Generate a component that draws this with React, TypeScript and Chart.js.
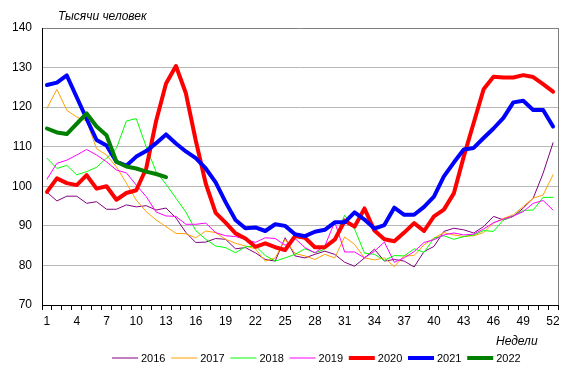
import React, { useEffect, useRef } from 'react';
import { Chart, registerables } from 'chart.js';

Chart.register(...registerables);

const weeks = ['1','2','3','4','5','6','7','8','9','10','11','12','13','14','15','16','17','18','19','20','21','22','23','24','25','26','27','28','29','30','31','32','33','34','35','36','37','38','39','40','41','42','43','44','45','46','47','48','49','50','51','52'];

const years = ['2016', '2017', '2018', '2019', '2020', '2021', '2022'];

const s2016 = [98.5,96.3,97.5,97.5,95.7,96.1,94.2,94.2,95.3,94.8, 95.1,94.0,94.5,92.0,88.3,85.8,85.9,86.8,86.6,84.2, 84.5,83.2,81.5,81.1,87.0,82.4,81.9,82.8,83.6,82.8, 80.8,79.8,81.9,84.1,81.1,81.5,81.1,79.6,83.5,84.8, 88.6,89.4,89.0,88.2,89.8,92.4,91.5,92.4,94.5,97.0, 103.3,111.0];
const s2017 = [119.7,124.5,119.2,117.5,116.5,109.5,107.9,104.9,100.8,96.5, 93.6,91.5,89.8,88.1,88.0,87.0,88.7,88.3,86.6,85.6, 84.9,84.2,81.1,81.9,86.6,83.0,82.4,81.5,82.8,81.9, 87.2,85.3,81.9,81.4,81.9,79.7,82.4,82.5,85.2,86.9, 88.3,87.7,87.3,87.5,88.3,90.7,91.9,92.8,94.9,97.0, 97.8,102.9];
const s2018 = [107.1,104.5,105.3,102.9,103.7,104.8,107.1,109.6,116.5,117.1, 110.0,103.7,100.5,97.0,93.5,88.8,86.6,84.9,84.5,83.2, 84.7,84.9,82.5,81.1,81.9,82.8,84.2,83.2,84.1,86.6, 92.7,89.2,83.1,82.8,81.3,82.5,82.4,84.2,83.3,86.9, 87.5,86.6,87.3,87.7,88.8,88.6,91.5,92.5,93.9,94.0, 97.2,97.2];
const s2019 = [101.8,105.8,106.6,107.9,109.3,107.9,106.2,104.1,103.4,100.3, 97.4,93.5,92.5,92.4,90.4,90.4,90.7,88.3,87.5,87.3, 86.6,85.8,87.0,86.8,85.1,86.8,84.5,83.2,84.9,91.0, 83.4,83.4,81.9,83.6,85.9,80.8,81.9,83.5,85.8,86.5, 87.7,88.2,87.7,87.9,89.2,90.8,91.7,92.5,93.6,95.7, 96.4,94.0];
const s2020 = [98.6,102.0,100.8,100.3,102.8,99.4,100.0,96.6,98.3,99.0, 104.5,116.5,126.0,130.4,123.5,111.5,100.7,93.3,90.8,88.1, 86.8,84.7,85.6,84.6,83.9,87.4,87.0,84.6,84.6,86.5, 91.3,89.8,94.4,88.8,86.6,86.1,88.3,90.7,88.7,92.4, 94.1,98.2,107.5,116.0,124.5,127.7,127.5,127.5,128.1,127.6, 125.8,123.9];
const s2021 = [125.6,126.2,128.0,122.5,117.0,111.7,110.3,106.2,105.2,107.5, 108.9,110.9,113.1,110.8,108.8,107.1,104.5,101.0,96.0,91.5, 89.4,89.6,88.7,90.4,90.0,87.9,87.4,88.5,89.0,90.9, 90.9,93.4,91.6,89.3,90.2,94.6,92.8,92.8,94.8,97.4, 102.5,106.0,109.3,109.7,112.2,114.6,117.3,121.2,121.6,119.3, 119.3,115.1];
const s2022 = [114.6,113.6,113.2,115.8,118.4,115.1,112.9,106.2,105.0,104.5, 103.7,103.1,102.3];

const seriesValues = [s2016, s2017, s2018, s2019, s2020, s2021, s2022];
const seriesColors = ['#800080', '#FFA000', '#00FF00', '#FF00FF', '#FF0000', '#0000FF', '#008000'];
const seriesWidths = [1, 1, 1, 1, 4, 4, 4];

const yTitle = 'Тысячи человек';
const xTitle = 'Недели';
const FONT = "'Liberation Sans', Arial, sans-serif";

const overlayPlugin = {
  id: 'overlay',
  afterDraw(chart: any) {
    const { ctx, chartArea } = chart;
    ctx.save();
    ctx.strokeStyle = '#808080';
    ctx.lineWidth = 1;
    ctx.beginPath();
    ctx.moveTo(Math.round(chartArea.right) + 0.5, chartArea.top);
    ctx.lineTo(Math.round(chartArea.right) + 0.5, chartArea.bottom);
    ctx.stroke();

    ctx.fillStyle = '#000';
    ctx.font = `italic 12px ${FONT}`;
    ctx.textAlign = 'left';
    ctx.textBaseline = 'alphabetic';
    ctx.fillText(yTitle, 58, 20);
    ctx.fillText(xTitle, 496, 345);

    ctx.font = `11px ${FONT}`;
    ctx.textBaseline = 'middle';
    chart.data.datasets.forEach((ds: any, i: number) => {
      const x0 = 112 + i * 59.2;
      ctx.strokeStyle = ds.borderColor;
      ctx.lineWidth = ds.borderWidth;
      ctx.beginPath();
      ctx.moveTo(x0, 358);
      ctx.lineTo(x0 + 26, 358);
      ctx.stroke();
      ctx.fillStyle = '#000';
      ctx.fillText(ds.label, x0 + 29, 358.5);
    });
    ctx.restore();
  },
};

export default function App() {
  const ref = useRef<HTMLCanvasElement | null>(null);

  useEffect(() => {
    if (!ref.current) return;
    const chart = new Chart(ref.current, {
      type: 'line',
      data: {
        labels: weeks,
        datasets: years.map((y, i) => ({
          label: y,
          data: seriesValues[i],
          borderColor: seriesColors[i],
          backgroundColor: seriesColors[i],
          borderWidth: seriesWidths[i],
          pointRadius: 0,
          pointHoverRadius: 0,
          tension: 0,
          fill: false,
          order: 6 - i,
          borderJoinStyle: 'round' as const,
          borderCapStyle: 'round' as const,
        })),
      },
      options: {
        animation: false,
        responsive: false,
        devicePixelRatio: 1,
        layout: { padding: { left: 0, right: 10, top: 28, bottom: 0 } },
        plugins: {
          legend: { display: false },
          title: { display: false },
          tooltip: { enabled: false },
        },
        scales: {
          x: {
            type: 'category',
            offset: true,
            grid: {
              display: true,
              drawOnChartArea: false,
              drawTicks: true,
              tickLength: 5,
              offset: true,
              color: '#000',
            },
            border: { display: true, color: '#000', width: 1 },
            ticks: {
              autoSkip: false,
              maxRotation: 0,
              minRotation: 0,
              padding: 4,
              color: '#000',
              font: { family: FONT, size: 12 },
              callback: (_v: any, i: number) => (i % 3 === 0 ? weeks[i] : ''),
            },
            afterFit: (s: any) => { s.height = 67; },
          },
          y: {
            min: 70,
            max: 140,
            ticks: {
              stepSize: 10,
              padding: 10,
              color: '#000',
              font: { family: FONT, size: 12 },
            },
            grid: {
              drawTicks: false,
              color: (c: any) => (c.tick && c.tick.value === 140 ? '#808080' : '#b8b8b8'),
            },
            border: { display: true, color: '#000', width: 1 },
            afterFit: (s: any) => { s.width = 42; },
          },
        },
      },
      plugins: [overlayPlugin],
    });
    return () => chart.destroy();
  }, []);

  return (
    <div style={{ position: 'absolute', left: 0, top: 0, width: 568, height: 372, background: '#fff' }}>
      <canvas ref={ref} width={568} height={372} style={{ display: 'block' }} />
    </div>
  );
}
